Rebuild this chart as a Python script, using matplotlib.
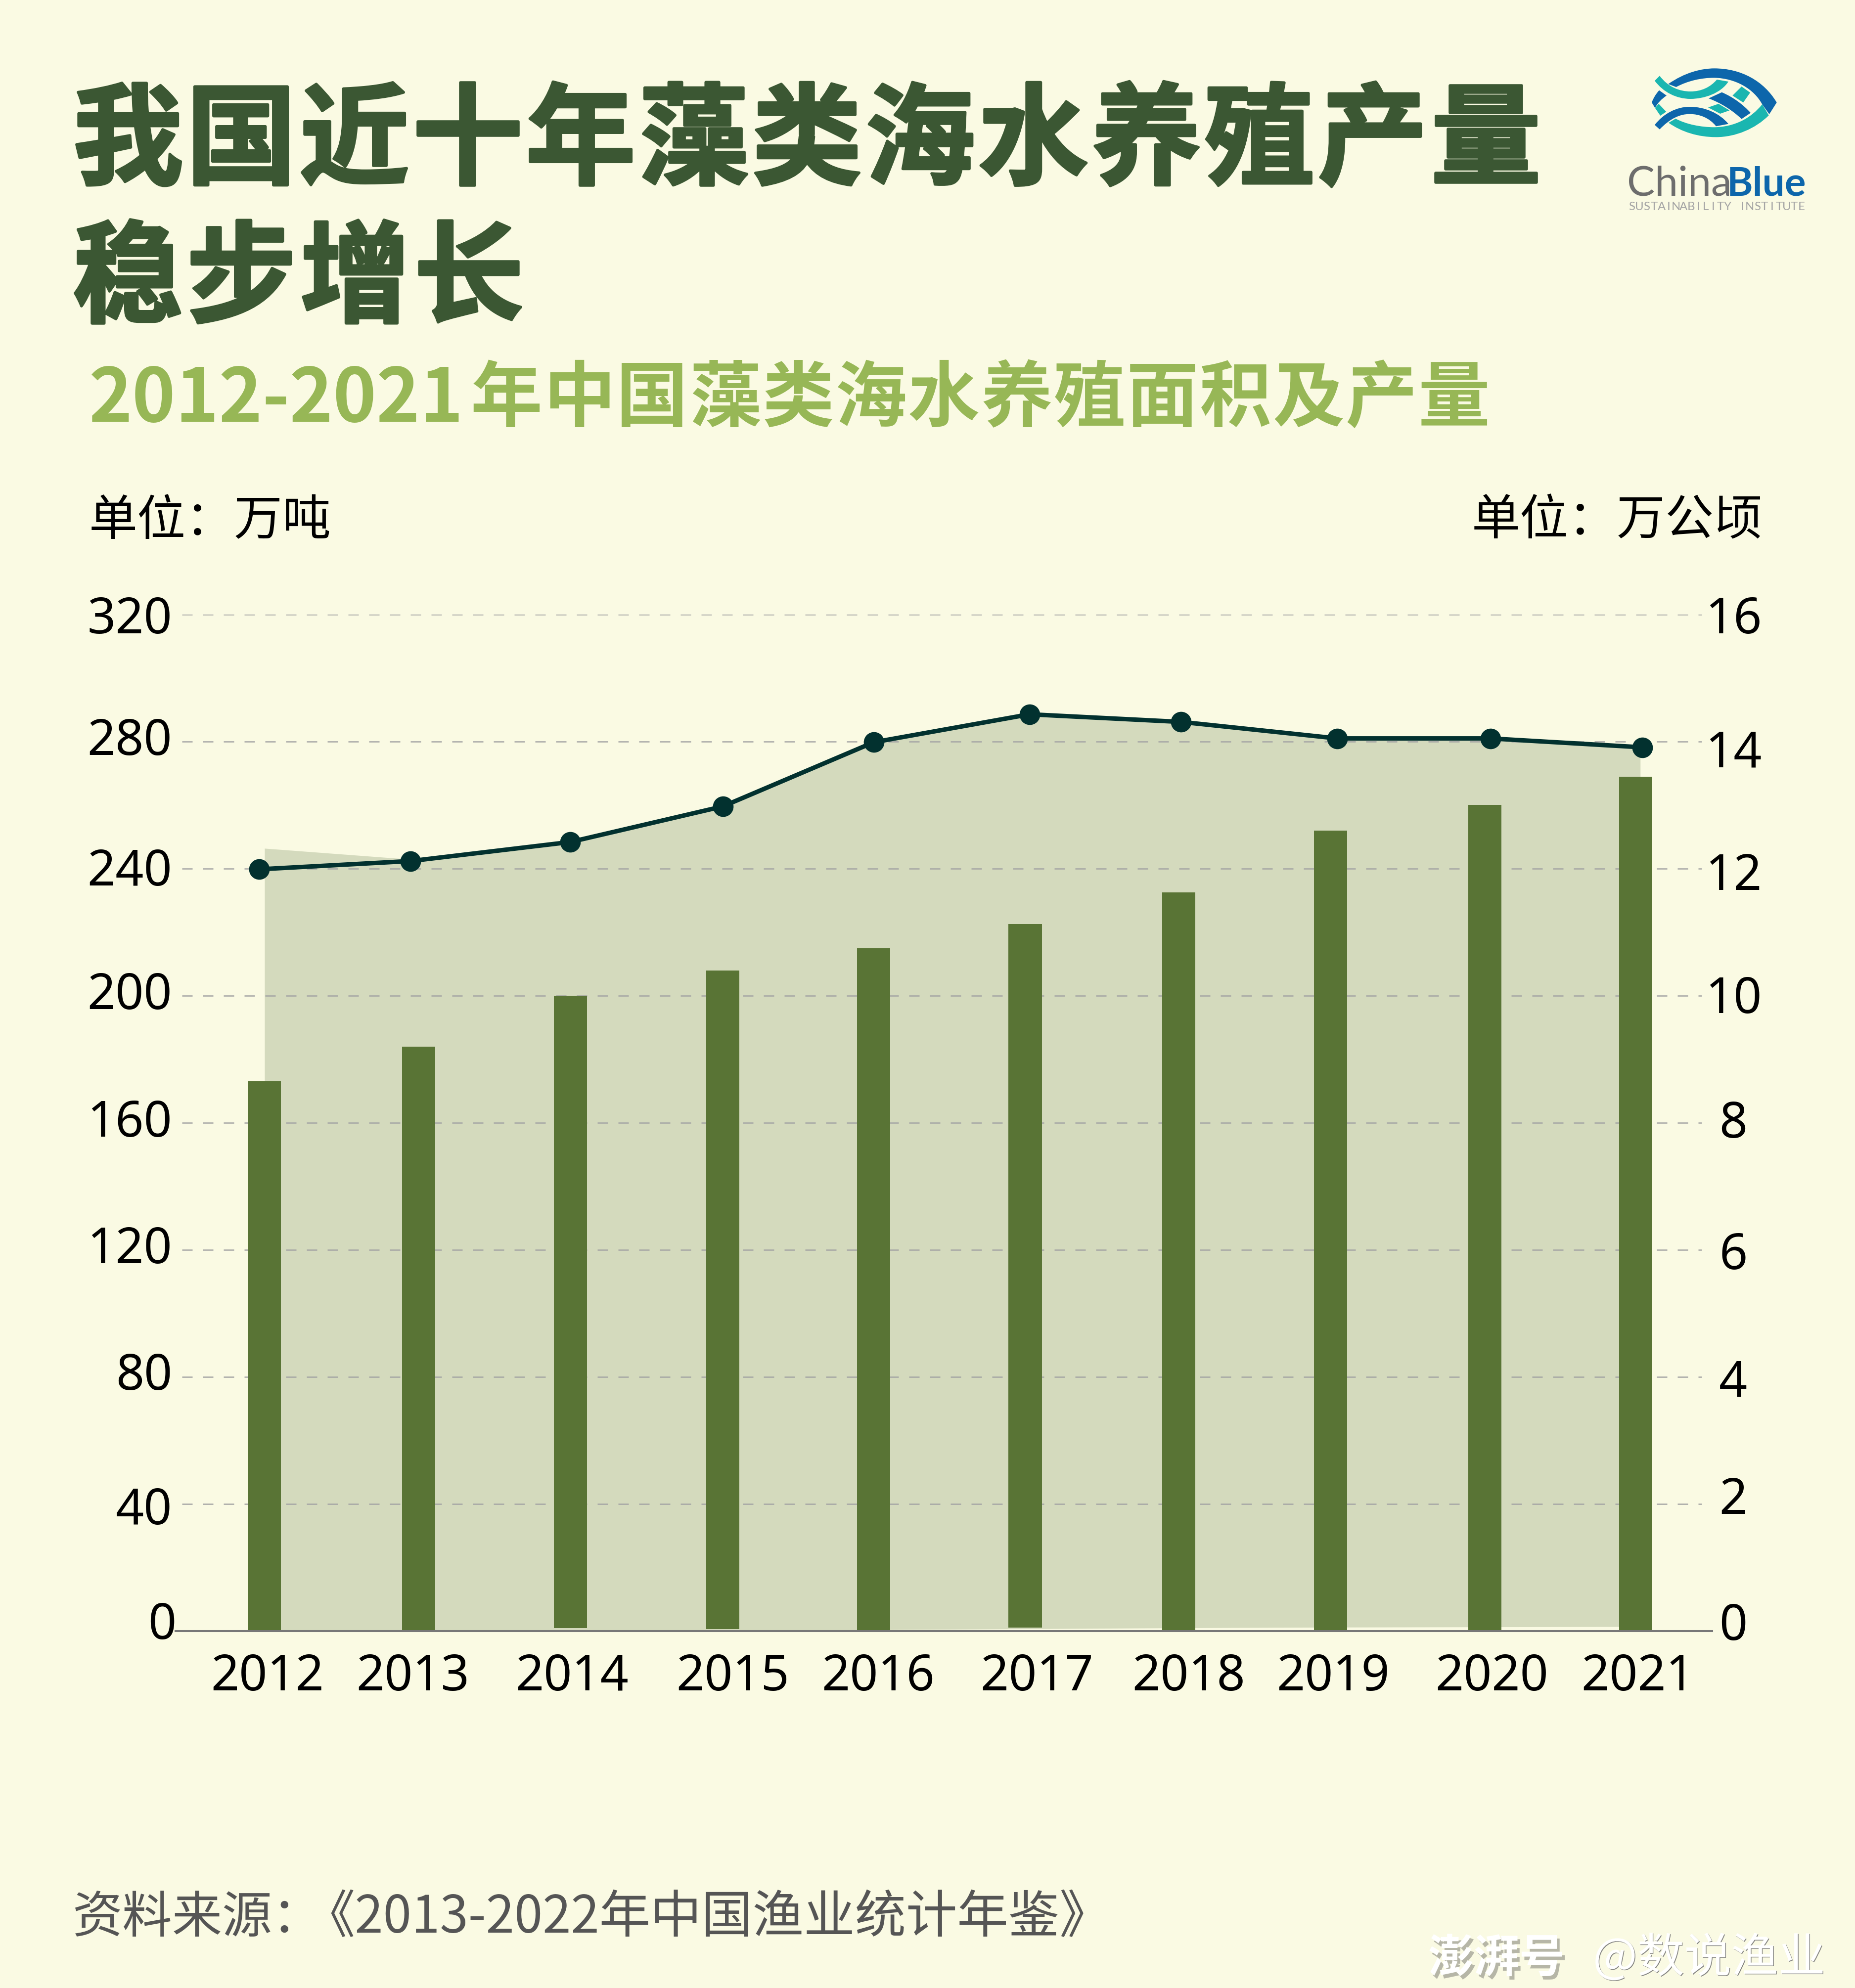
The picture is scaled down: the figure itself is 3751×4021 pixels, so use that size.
import matplotlib
matplotlib.use('Agg')
import matplotlib.pyplot as plt
import matplotlib.patheffects as pe
from matplotlib.path import Path
from matplotlib.patches import PathPatch

W, H = 3751, 4021
CJK = ['Noto Sans CJK SC', 'DejaVu Sans']
PX = 0.72  # font size in pt for one pixel at dpi 100

# data
years = ['2012', '2013', '2014', '2015', '2016', '2017', '2018', '2019', '2020', '2021']
output = [173, 184, 200, 208, 215, 222.5, 232.5, 252, 260, 269]
output_base = [0, 0, 0.9, 0.6, 0, 1.1, 0, 0, 0, 0]
area_ha = [11.99, 12.12, 12.42, 12.98, 13.99, 14.43, 14.31, 14.05, 14.05, 13.91]
band_top = [246.4, 242.8, 248.4, 259.7, 279.9, 288.3, 286.4, 281.4, 281.0, 278.0]
band_bottom = [0, 0, 0, 0.2, 0.4, 0.7, 1.0, 1.2, 1.3, 1.4]
left_ticks = [0, 40, 80, 120, 160, 200, 240, 280, 320]
right_ticks = [0, 2, 4, 6, 8, 10, 12, 14, 16]

title_lines = ['我国近十年藻类海水养殖产量', '稳步增长']
subtitle_num = '2012-2021'
subtitle_cjk = '年中国藻类海水养殖面积及产量'
unit_left = '单位：万吨'
unit_right = '单位：万公顷'
source_head = '资料来源：'
source_book = '《2013-2022年中国渔业统计年鉴》'

# the picture is hand placed, these are the per item shifts in pixels
bar_nudge = [0, 4, 3, 3, 0, -2, 0, -1, 3, 0]
line_nudge = [-10, -12, 3, 3, 0, 7, 5, 13, 14, 13]
band_nudge = [1, 0, 0, 0, 0, 0, 0, 0, 0, 9]
xlabel_nudge = [7, -8, 6, 23, 9, 22, 20, 4, 17, 4]
left_label_y = [3289, 3056, 2785, 2528, 2272, 2014, 1765, 1501, 1254]
right_label_y = [3290, 3036, 2798, 2541, 2275, 2023, 1774, 1525, 1254]

BG = '#FAFAE3'
DARK = '#3B5733'
LIGHT = '#97B756'
BAR = '#597435'
BAND = '#D4DABD'
LINE = '#02312F'
GRID = '#A5A5A5'
BLUE = '#0D66AB'
TEAL = '#1AB6B0'

STEP = 308.2
FIRST = 534
X0, X1 = 355, 3462
Y0, Y1 = 3299, 1243


def main():
    fig = plt.figure(figsize=(W / 100, H / 100), dpi=100, facecolor=BG)

    ax = fig.add_axes([X0 / W, 1 - Y0 / H, (X1 - X0) / W, (Y0 - Y1) / H])
    ax.set_facecolor('none')
    ax.set_xlim((X0 - FIRST) / STEP, (X1 - FIRST) / STEP)
    ax.set_ylim(0, 320)
    ax2 = ax.twinx()
    ax2.set_facecolor('none')
    ax2.set_ylim(0, 16)

    idx = list(range(len(years)))
    ax.fill_between([i + n / STEP for i, n in zip(idx, band_nudge)], band_bottom, band_top,
                    color=BAND, lw=0, zorder=1)
    for t in left_ticks[1:]:
        ax.axhline(t, xmin=13 / (X1 - X0), xmax=(3441 - X0) / (X1 - X0), color=GRID,
                   lw=1.8, linestyle=(0, (8.4, 8.4)), zorder=1.5)
    ax.bar([i + n / STEP for i, n in zip(idx, bar_nudge)],
           [v - b for v, b in zip(output, output_base)], width=67 / STEP, bottom=output_base,
           color=BAR, zorder=2)
    ax2.plot([i + n / STEP for i, n in zip(idx, line_nudge)], area_ha, color=LINE, lw=6.5,
             marker='o', ms=30, mew=0, zorder=3, clip_on=False)

    for a in (ax, ax2):
        a.tick_params(length=0, labelleft=False, labelright=False, labelbottom=False)
        a.set_xticks([])
        a.set_yticks([])
        for s in a.spines.values():
            s.set_visible(False)
    ax2.spines['bottom'].set_visible(True)
    ax2.spines['bottom'].set_color('#777777')
    ax2.spines['bottom'].set_linewidth(2.9)
    ax2.spines['bottom'].set_zorder(4)

    # everything around the plot goes on a pixel overlay
    top = fig.add_axes([0, 0, 1, 1], zorder=10)
    top.set_xlim(0, W)
    top.set_ylim(H, 0)
    top.axis('off')

    def txt(x, y, s, size, color='black', ha='left', va='center', weight='normal', family=CJK, **kw):
        return top.text(x, y, s, fontsize=size * PX, color=color, ha=ha, va=va,
                        fontweight=weight, family=family, **kw)

    # tick labels
    for t, y in zip(left_ticks, left_label_y):
        txt(348 if t else 356, y, str(t), 100, ha='right', family='Noto Sans')
    for t, y in zip(right_ticks, right_label_y):
        txt(3505, y, str(t), 100, ha='center', family='Noto Sans')
    for i, (yr, n) in enumerate(zip(years, xlabel_nudge)):
        txt(FIRST + i * STEP + n, 3393, yr, 100, ha='center', family='Noto Sans')

    # title, one glyph at a time because of the tracking
    heavy = [pe.withStroke(linewidth=4, foreground=DARK)]
    for i, c in enumerate(title_lines[0]):
        txt(259 + i * 228.8, 290, c, 222, DARK, ha='center', weight='bold', path_effects=heavy)
    for i, c in enumerate(title_lines[1]):
        txt(258 + i * 230, 569, c, 222, DARK, ha='center', weight='bold', path_effects=heavy)
    txt(180, 809, subtitle_num, 149, LIGHT, weight='bold')
    for i, c in enumerate(subtitle_cjk):
        txt(1024 + i * 147.4, 809, c, 145, LIGHT, ha='center', weight='bold')

    txt(180, 1054, unit_left, 98)
    txt(3564, 1054, unit_right, 98, ha='right')
    txt(146, 3880, source_head, 101, '#555555')
    txt(614, 3880, source_book, 103.4, '#555555')

    # watermark
    shadow = [pe.withSimplePatchShadow(offset=(4, -5), shadow_rgbFace='#8A8A80', alpha=0.6)]
    txt(3026, 3962, '澎湃号', 92, 'white', ha='center', weight='bold', path_effects=shadow)
    thin = [pe.withSimplePatchShadow(offset=(1, -1), shadow_rgbFace='#777777', alpha=0.9)]
    txt(3221, 3962, '@数说渔业', 95, 'white', path_effects=thin)

    # logo, shapes
    M, L, C4 = Path.MOVETO, Path.LINETO, Path.CURVE4
    shapes = [
        (BLUE, [(M, 520, 210), (C4, 620, 140), (C4, 720, 115), (C4, 800, 115),
                (C4, 960, 115), (C4, 1100, 190), (C4, 1178, 322), (L, 1133, 393), (L, 1090, 333),
                (C4, 1040, 240), (C4, 930, 175), (C4, 800, 172),
                (C4, 720, 172), (C4, 640, 190), (C4, 568, 228)]),
        (TEAL, [(M, 468, 160), (C4, 520, 230), (C4, 590, 255), (C4, 655, 255),
                (C4, 720, 255), (C4, 775, 230), (C4, 815, 183), (L, 885, 195),
                (C4, 840, 265), (C4, 740, 300), (C4, 655, 300),
                (C4, 570, 300), (C4, 490, 260), (C4, 438, 190)]),
        (BLUE, [(M, 465, 248), (C4, 445, 270), (C4, 430, 295), (C4, 420, 322), (L, 440, 355),
                (C4, 455, 325), (C4, 480, 300), (C4, 510, 280)]),
        (TEAL, [(M, 440, 355), (L, 462, 330), (L, 508, 378), (L, 472, 402)]),
        (BLUE, [(M, 438, 458), (C4, 490, 390), (C4, 570, 348), (C4, 650, 348),
                (C4, 740, 348), (C4, 830, 385), (C4, 885, 452), (L, 810, 466),
                (C4, 770, 415), (C4, 710, 392), (C4, 650, 392),
                (C4, 590, 392), (C4, 530, 420), (C4, 468, 485)]),
        (TEAL, [(M, 522, 445), (L, 565, 420), (C4, 630, 455), (C4, 720, 472), (C4, 800, 472),
                (C4, 920, 470), (C4, 1020, 420), (C4, 1090, 333), (L, 1130, 400),
                (C4, 1050, 480), (C4, 930, 532), (C4, 810, 532),
                (C4, 700, 532), (C4, 600, 500), (C4, 522, 445)]),
        (BLUE, [(M, 765, 297), (L, 845, 260), (C4, 915, 290), (C4, 975, 335), (C4, 1020, 385),
                (L, 965, 422), (C4, 910, 370), (C4, 840, 325), (C4, 765, 297)]),
        (TEAL, [(M, 910, 280), (L, 965, 225), (L, 1017, 262), (L, 975, 322)]),
        (TEAL, [(M, 762, 352), (L, 825, 330), (L, 892, 370), (L, 835, 390)]),
    ]
    for color, pts in shapes:
        verts = [(3200 + p[1] / 3, 100 + p[2] / 3) for p in pts] + [(0, 0)]
        codes = [p[0] for p in pts] + [Path.CLOSEPOLY]
        top.add_patch(PathPatch(Path(verts, codes), fc=color, ec='none'))

    txt(3290, 395, 'China', 84, '#6D6D6D', va='baseline', family='Lato')
    txt(3492, 395, 'Blue', 80, BLUE, va='baseline', family='Lato', weight='bold')
    sub = 'SUSTAINABILITY INSTITUTE'
    for i, c in enumerate(sub):
        txt(3300 + i * 14.9, 425, c, 24, '#A5A5A5', ha='center', va='baseline', family='Lato')

    fig.savefig('out.png', dpi=100, facecolor=BG)


if __name__ == '__main__':
    main()
